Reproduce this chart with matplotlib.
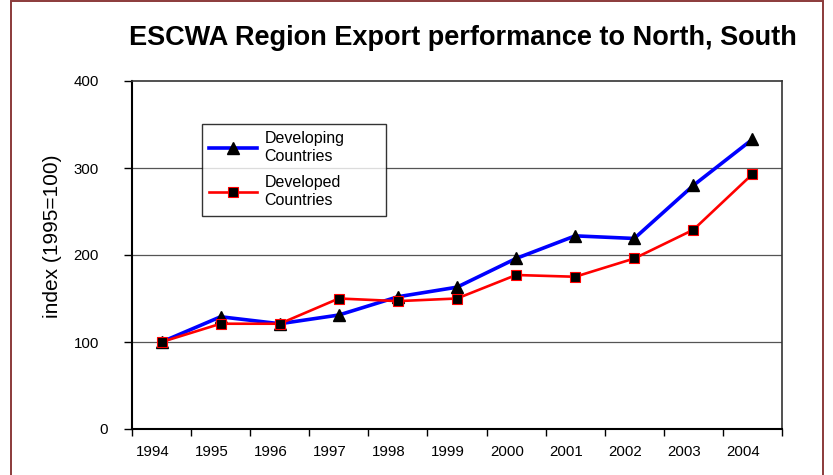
import numpy as np
import matplotlib
matplotlib.use("Agg")
import matplotlib.pyplot as plt
from matplotlib.transforms import ScaledTranslation
from matplotlib.patches import Rectangle

years = ["1994", "1995", "1996", "1997", "1998", "1999", "2000", "2001", "2002", "2003", "2004"]
developing = [100, 129, 121, 131, 152, 163, 196, 222, 219, 280, 333]
developed = [100, 121, 121, 150, 147, 150, 177, 175, 196, 229, 293]
yticks = [0, 100, 200, 300, 400]

title = "ESCWA Region Export performance to North, South"
ylabel = "index (1995=100)"
series_labels = ["Developing\nCountries", "Developed\nCountries"]

plt.rcParams['font.family'] = ['Liberation Sans', 'DejaVu Sans']

W, H = 833, 475
fig = plt.figure(figsize=(W / 100, H / 100), dpi=100)
ax = fig.add_axes([132 / W, 1 - 429 / H, (782 - 132) / W, (429 - 81) / H])

x = np.arange(len(years))
ax.plot(x, developing, color='#0000FF', lw=2.6, marker='^', ms=8.5,
        mfc='black', mec='black', label=series_labels[0], zorder=3)
ax.plot(x, developed, color='#FF0000', lw=1.9, marker='s', ms=7,
        mfc='black', mec='#FF0000', mew=0.8, label=series_labels[1], zorder=3.1)

ax.set_xlim(-0.5, len(years) - 0.5)
ax.set_ylim(0, 400)
ax.set_yticks(yticks)
ax.set_yticklabels([str(v) for v in yticks])
ax.set_xticks(np.arange(-0.5, len(years), 1.0))
ax.set_xticklabels([])
ax.set_xticks(x, minor=True)
ax.set_xticklabels(years, minor=True)

ax.tick_params(axis='x', which='major', direction='out', length=5, width=1.0, color='black')
ax.tick_params(axis='x', which='minor', length=0, pad=11.5, labelsize=10.8)
ax.tick_params(axis='y', which='major', direction='out', length=5.8, width=1.0,
               pad=18, labelsize=10.8, color='black')

off = ScaledTranslation(-9 / 100, 0, fig.dpi_scale_trans)
for lbl in ax.get_xticklabels(minor=True):
    lbl.set_transform(lbl.get_transform() + off)
ylbls = ax.get_yticklabels()
ylbls[0].set_transform(ylbls[0].get_transform() + ScaledTranslation(9 / 100, 0, fig.dpi_scale_trans))

for v in yticks[1:-1]:
    ax.axhline(v, color='#555555', lw=0.9, zorder=1)

for s in ['left', 'bottom']:
    ax.spines[s].set_color('black')
    ax.spines[s].set_linewidth(1.5)
for s in ['top', 'right']:
    ax.spines[s].set_color('#333333')
    ax.spines[s].set_linewidth(1.2)

ax.set_ylabel(ylabel, fontsize=15, va='center')
ax.yaxis.set_label_coords((53 - 132) / 650, (429 - 236) / 348)

leg = ax.legend(loc='upper left',
                bbox_to_anchor=(202 / W, 1 - 214 / H, (386 - 202) / W, 90 / H),
                bbox_transform=fig.transFigure, mode='expand', borderaxespad=0,
                frameon=True, fancybox=False, edgecolor='black', fontsize=11.5,
                numpoints=1, handlelength=3.0, handletextpad=0.45, borderpad=0.45,
                labelspacing=0.7)
for t in leg.get_texts():
    t.set_linespacing(1.25)
leg.get_frame().set_linewidth(1.0)
leg.set_zorder(5)

fig.text(463 / W, 1 - 45 / H, title, ha='center', va='baseline',
         fontsize=19.5, fontweight='bold')

fig.patches.append(Rectangle((11 / W, -0.05), (823 - 11) / W, 1.05 - 1.5 / H,
                             transform=fig.transFigure, fill=False,
                             edgecolor='#8B3A3A', lw=1.4))

fig.savefig("out.png", dpi=100)
